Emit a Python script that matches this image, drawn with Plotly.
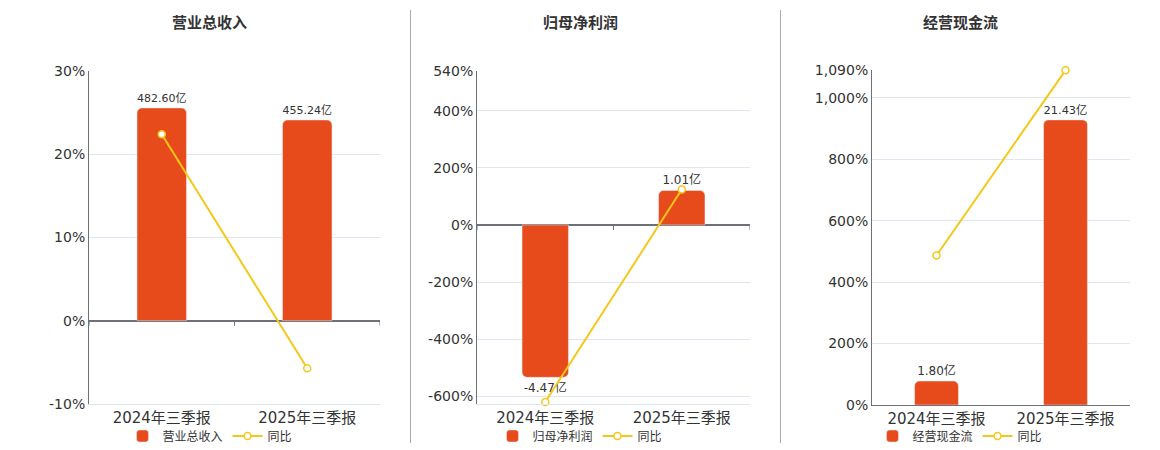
import plotly.graph_objects as go

categories = ['2024年三季报', '2025年三季报']

titles = ['营业总收入', '归母净利润', '经营现金流']
bar_values = [
    [482.60, 455.24],
    [-4.47, 1.01],
    [1.80, 21.43],
]
yoy_values = [
    [22.37, -5.71],
    [-620.0, 123.8],
    [486.5, 1089.0],
]
tick_values = [
    [-10, 0, 10, 20, 30],
    [-600, -400, -200, 0, 200, 400, 540],
    [0, 200, 400, 600, 800, 1000, 1090],
]
y_ranges = [[-10, 30], [-627, 540], [0, 1090]]

W, H = 1160, 450
OFF = 8  # the page body has an 8px margin, so shift everything back by that
BAR_COLOR = '#E84B1B'
LINE_COLOR = '#F4C81A'
AXIS_COLOR = '#6E7079'
GRID_COLOR = '#E0E6F1'
FONT = 'DejaVu Sans, Noto Sans CJK SC'

# pixel boxes of the three plot areas in the screenshot: (left, right, top, bottom)
boxes = [(89, 380, 70.7, 404), (477, 750, 70.7, 404), (872, 1130, 70, 405)]
title_x = [210, 580, 960]
separators = [410.5, 780.5]
headroom = 1.175


def px(x):
    return (x - OFF) / W


def py(y):
    return 1 - (y - OFF) / H


fig = go.Figure()
layout = dict(
    width=W, height=H,
    margin=dict(l=0, r=0, t=0, b=0),
    paper_bgcolor='white', plot_bgcolor='white',
    font=dict(family=FONT, color='#333'),
    barcornerradius=5,
    shapes=[], annotations=[],
)

for i in range(3):
    n = i + 1
    xa = 'x' if n == 1 else f'x{n}'
    y_pct = 'y' if n == 1 else f'y{3 * n - 2}'
    y_bar = f'y{3 * n - 1}'
    y_line = f'y{3 * n}'
    leg = 'legend' if n == 1 else f'legend{n}'
    l, r, t, b = boxes[i]

    lo, hi = y_ranges[i]
    # bar axis is scaled so zero lines up and the biggest bar leaves some headroom
    big = max(bar_values[i], key=abs)
    k = headroom * abs(big) / (hi if big > 0 else -lo)

    fig.add_trace(go.Bar(
        x=categories, y=bar_values[i], name=titles[i],
        marker_color=BAR_COLOR, width=0.34,
        text=[f'{v:.2f}亿' for v in bar_values[i]], textposition='outside',
        textfont=dict(size=12, color='#333'), cliponaxis=False,
        xaxis=xa, yaxis=y_bar, legend=leg,
    ))
    fig.add_trace(go.Scatter(
        x=categories, y=yoy_values[i], name='同比', mode='lines+markers',
        line=dict(color=LINE_COLOR, width=2),
        marker=dict(symbol='circle', size=7, color='white',
                    line=dict(color=LINE_COLOR, width=1.5)),
        cliponaxis=False, xaxis=xa, yaxis=y_line, legend=leg,
    ))

    xkey = 'xaxis' if n == 1 else f'xaxis{n}'
    ykey = 'yaxis' if n == 1 else f'yaxis{3 * n - 2}'
    layout[xkey] = dict(
        domain=[px(l), px(r)], anchor=y_pct, type='category',
        categoryarray=categories, range=[-0.5, 1.5],
        showgrid=False, showline=True,
        linecolor=AXIS_COLOR if lo == 0 else GRID_COLOR,
        ticks='', tickfont=dict(size=15, color='#333'), automargin=False,
    )
    layout[ykey] = dict(
        domain=[py(b), py(t)], anchor=xa, range=[lo, hi],
        tickvals=tick_values[i], ticktext=[f'{v:,}%' for v in tick_values[i]],
        showgrid=True, gridcolor=GRID_COLOR,
        zeroline=True, zerolinecolor=AXIS_COLOR, zerolinewidth=2,
        showline=True, linecolor=AXIS_COLOR, ticks='',
        tickfont=dict(size=14, color='#333'), automargin=False,
    )
    layout[f'yaxis{3 * n - 1}'] = dict(
        overlaying=y_pct, anchor=xa, range=[lo * k, hi * k], visible=False,
    )
    layout[f'yaxis{3 * n}'] = dict(
        overlaying=y_pct, anchor=xa, range=[lo, hi], visible=False,
    )
    layout[leg] = dict(
        orientation='h', x=px(title_x[i]), xanchor='center',
        y=py(436), yanchor='middle',
        font=dict(size=12, color='#333'), bgcolor='rgba(0,0,0,0)',
        itemwidth=30,
    )
    layout['annotations'].append(dict(
        text=f'<b>{titles[i]}</b>', x=px(title_x[i]), y=py(23),
        xanchor='center', yanchor='middle',
        xref='paper', yref='paper', showarrow=False,
        font=dict(size=15, color='#333'),
    ))
    # small tick marks on the zero line at the category boundaries
    for j in range(len(categories) + 1):
        layout['shapes'].append(dict(
            type='line', xref=xa, yref=y_pct, x0=j - 0.5, x1=j - 0.5,
            ysizemode='pixel', yanchor=0, y0=0, y1=-5,
            line=dict(color=AXIS_COLOR, width=1),
        ))

for sx in separators:
    layout['shapes'].append(dict(
        type='line', xref='paper', yref='paper', x0=px(sx), x1=px(sx),
        y0=py(443), y1=py(10), line=dict(color='#AAAAAA', width=1),
    ))

fig.update_layout(**layout)
fig.write_html('out.html')
